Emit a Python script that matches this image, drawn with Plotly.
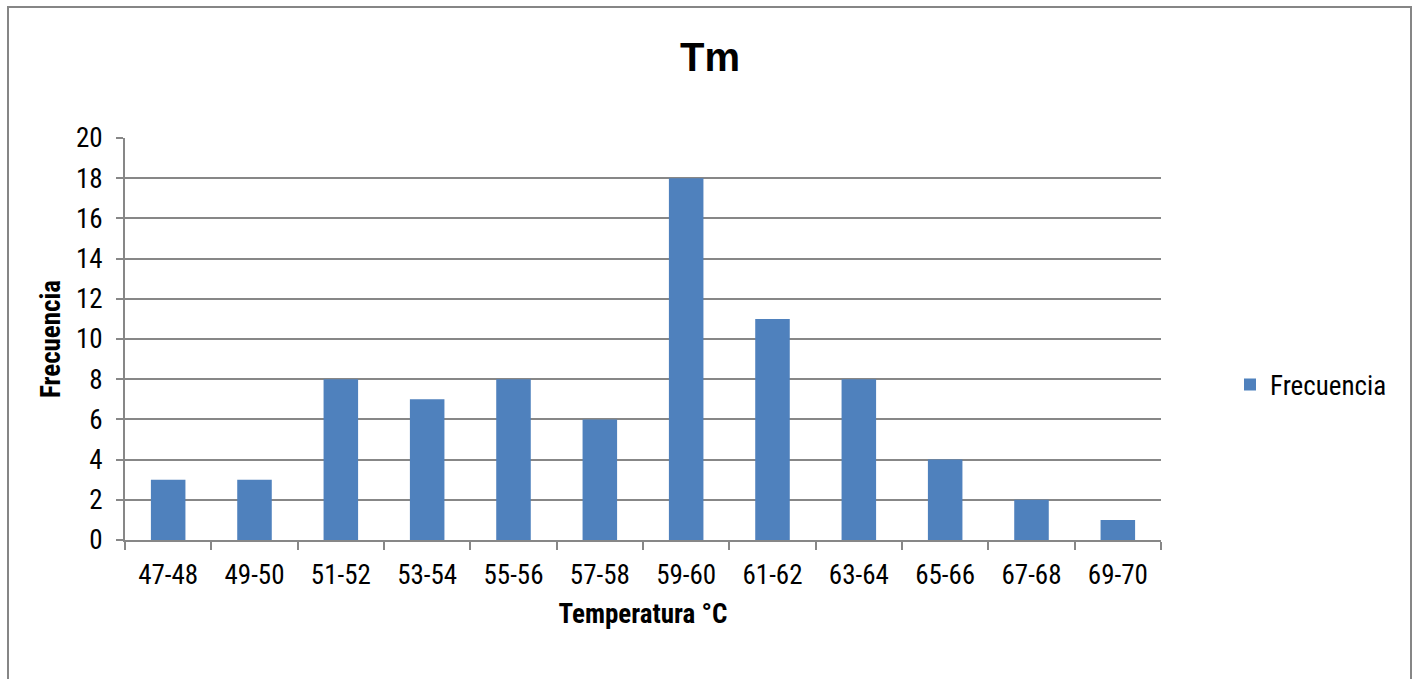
import plotly.graph_objects as go

categories = ["47-48", "49-50", "51-52", "53-54", "55-56", "57-58",
              "59-60", "61-62", "63-64", "65-66", "67-68", "69-70"]
frecuencia = [3, 3, 8, 7, 8, 6, 18, 11, 8, 4, 2, 1]
y_ticks = [0, 2, 4, 6, 8, 10, 12, 14, 16, 18, 20]

FONT = "Roboto Condensed, Liberation Sans Narrow, Arial Narrow, sans-serif"
GRID = "#878787"
FS = 27

fig = go.Figure()
fig.add_trace(go.Bar(
    x=categories, y=frecuencia, name="Frecuencia",
    marker=dict(color="#4F81BD", line=dict(width=0)),
    showlegend=True,
))

L, R, T, B = 125, 255, 138, 139
W, H = 1416, 679
pw, ph = W - L - R, H - T - B

def px_x(x):
    return (x - L) / pw

def px_y(y):
    return (H - B - y) / ph

fig.update_layout(
    width=W, height=H,
    margin=dict(l=L, r=R, t=T, b=B, autoexpand=False),
    paper_bgcolor="white", plot_bgcolor="white",
    bargap=0.6,
    title=dict(text="<b>Tm</b>", x=px_x(710), xref="paper", xanchor="center",
               y=1 - 57 / H, yanchor="middle",
               font=dict(family="Liberation Sans, Arial, sans-serif", size=40, color="black")),
    font=dict(family=FONT, size=FS, color="black"),
    xaxis=dict(
        type="category", tickson="boundaries", ticks="outside", ticklen=8,
        tickcolor=GRID, tickwidth=2, showline=True, linecolor=GRID, linewidth=2,
        showgrid=False, tickfont=dict(family=FONT, size=FS), ticklabelstandoff=10,
        automargin=False,
        title=dict(text="<b>Temperatura °C</b>", standoff=14,
                   font=dict(family=FONT, size=FS)),
    ),
    yaxis=dict(
        range=[0, 20], tickvals=y_ticks, ticks="outside", ticklen=7,
        tickcolor=GRID, tickwidth=2, showline=True, linecolor=GRID, linewidth=2,
        showgrid=True, gridcolor=GRID, gridwidth=2, zeroline=False,
        tickfont=dict(family=FONT, size=FS), ticklabelstandoff=8,
        automargin=False,
        title=dict(text="<b>Frecuencia</b>", standoff=7,
                   font=dict(family=FONT, size=FS)),
    ),
    legend=dict(x=px_x(1230), y=px_y(385), xanchor="left", yanchor="middle",
                font=dict(family=FONT, size=FS), itemwidth=30,
                bgcolor="rgba(0,0,0,0)"),
    shapes=[dict(type="rect", xref="paper", yref="paper",
                 x0=px_x(8), x1=px_x(1411), y0=px_y(700), y1=px_y(7),
                 line=dict(color="#868686", width=2), layer="below")],
)

fig.write_html("out.html")
